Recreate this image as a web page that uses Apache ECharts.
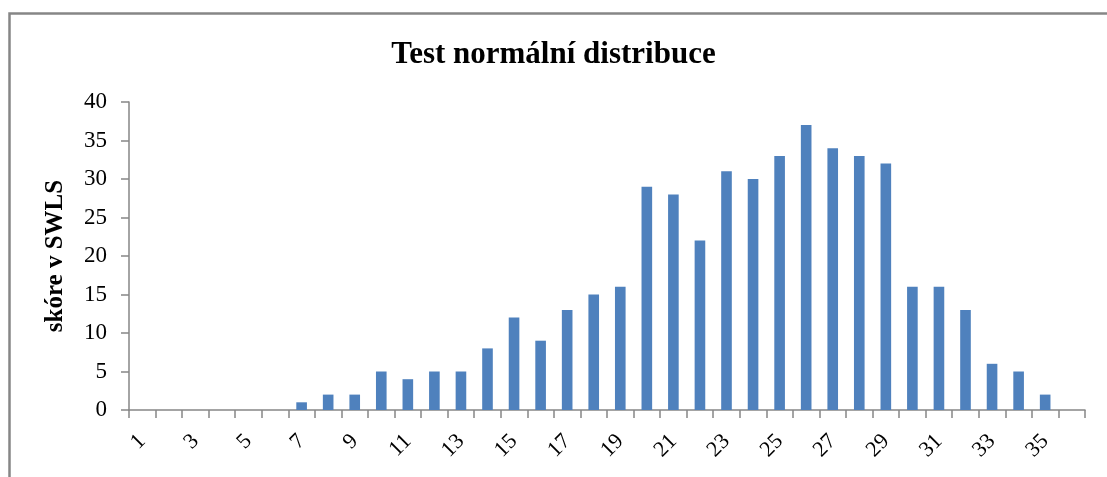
<!DOCTYPE html>
<html>
<head>
<meta charset="utf-8">
<script src="https://cdn.jsdelivr.net/npm/echarts@6/dist/echarts.min.js"></script>
<style>
html,body{margin:0;padding:0;background:#fff;}
#chart{width:1107px;height:477px;}
</style>
</head>
<body>
<div id="chart"></div>
<script>
var titleText = 'Test normální distribuce';
var yAxisName = 'skóre v SWLS';
var categories = ['1','2','3','4','5','6','7','8','9','10','11','12','13','14','15','16','17','18','19','20','21','22','23','24','25','26','27','28','29','30','31','32','33','34','35',''];
var values = [0,0,0,0,0,0,1,2,2,5,4,5,5,8,12,9,13,15,16,29,28,22,31,30,33,37,34,33,32,16,16,13,6,5,2,0];
var yMin = 0, yMax = 40, yStep = 5;

var chart = echarts.init(document.getElementById('chart'), null, {renderer:'canvas'});
var serif = '"Liberation Serif","DejaVu Serif",serif';
chart.setOption({
  animation:false,
  backgroundColor:'#ffffff',
  graphic:[{
    type:'rect', left:7, top:11, z:-1,
    shape:{x:0,y:0,width:1120,height:480},
    style:{fill:'none', stroke:'#868686', lineWidth:2.5}
  }],
  title:{
    text:titleText, left:'center', top:34,
    textStyle:{fontFamily:serif, fontWeight:'bold', fontSize:31, color:'#000'}
  },
  grid:{left:129, right:22, top:102, bottom:67, containLabel:false},
  xAxis:{
    type:'category', data:categories, boundaryGap:true,
    axisLine:{lineStyle:{color:'#868686', width:1.5}},
    axisTick:{show:true, interval:0, length:8, lineStyle:{color:'#868686', width:1.5}},
    axisLabel:{interval:1, rotate:45, margin:28, fontFamily:serif, fontSize:22, color:'#000'}
  },
  yAxis:{
    type:'value', min:yMin, max:yMax, interval:yStep,
    name:yAxisName, nameLocation:'middle', nameGap:61,
    nameTextStyle:{fontFamily:serif, fontWeight:'bold', fontSize:25, color:'#000'},
    axisLine:{show:true, lineStyle:{color:'#868686', width:1.5}},
    axisTick:{show:true, length:8, lineStyle:{color:'#868686', width:1.5}},
    splitLine:{show:false},
    axisLabel:{margin:22, fontFamily:serif, fontSize:23, color:'#000'}
  },
  series:[{
    type:'bar', data:values, barCategoryGap:'60%',
    itemStyle:{color:'#4F81BD'}
  }]
});
</script>
</body>
</html>
